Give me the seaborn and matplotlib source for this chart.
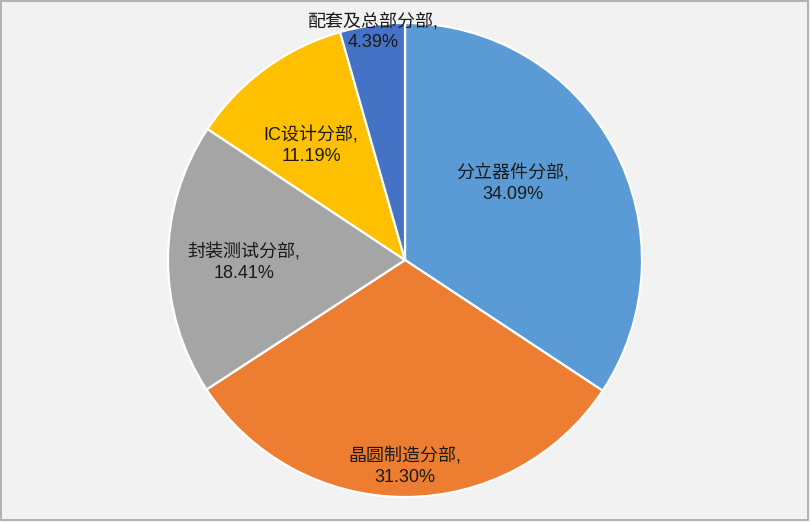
import numpy as np
import matplotlib
matplotlib.use("Agg")
import matplotlib.pyplot as plt
import seaborn as sns

# ─── Data ────────────────────────────────────────────────────────────────────
segments = ["分立器件分部", "晶圆制造分部", "封装测试分部", "IC设计分部", "配套及总部分部"]
shares = [34.09, 31.30, 18.41, 11.19, 4.39]
colors = ["#5B9BD5", "#ED7D31", "#A5A5A5", "#FFC000", "#4472C4"]
# label placement (fraction of radius, angle nudge in degrees)
label_r = [0.556, 0.873, 0.68, 0.625, 0.973]
label_nudge = [7, 0, 1, 3.2, 0]

sns.set_theme(style="white")
plt.rcParams["font.family"] = ["Liberation Sans", "Noto Sans CJK SC", "DejaVu Sans"]

fig = plt.figure(figsize=(8.1, 5.22), dpi=100, facecolor="#F2F2F2")
fig.patches.append(plt.Rectangle((0.001, 0.004), 0.997, 0.994, transform=fig.transFigure,
                                 fill=False, edgecolor="#A6A6A6", linewidth=1.2))
ax = fig.add_axes([168 / 810, 25 / 522, 474 / 810, 474 / 522])
ax.set_facecolor("#F2F2F2")

wedges, _ = ax.pie(shares, colors=colors, startangle=90, counterclock=False,
                   wedgeprops=dict(edgecolor="white", linewidth=1.6))

for w, name, val, r, nd in zip(wedges, segments, shares, label_r, label_nudge):
    mid = np.deg2rad((w.theta1 + w.theta2) / 2 + nd)
    ax.text(r * np.cos(mid), r * np.sin(mid), f"{name},\n{val:.2f}%",
            ha="center", va="center", fontsize=13, color="#1a1a1a", linespacing=1.3)

ax.set_xlim(-1, 1)
ax.set_ylim(-1, 1)
ax.axis("off")

plt.savefig("out.png", dpi=100, facecolor=fig.get_facecolor())
